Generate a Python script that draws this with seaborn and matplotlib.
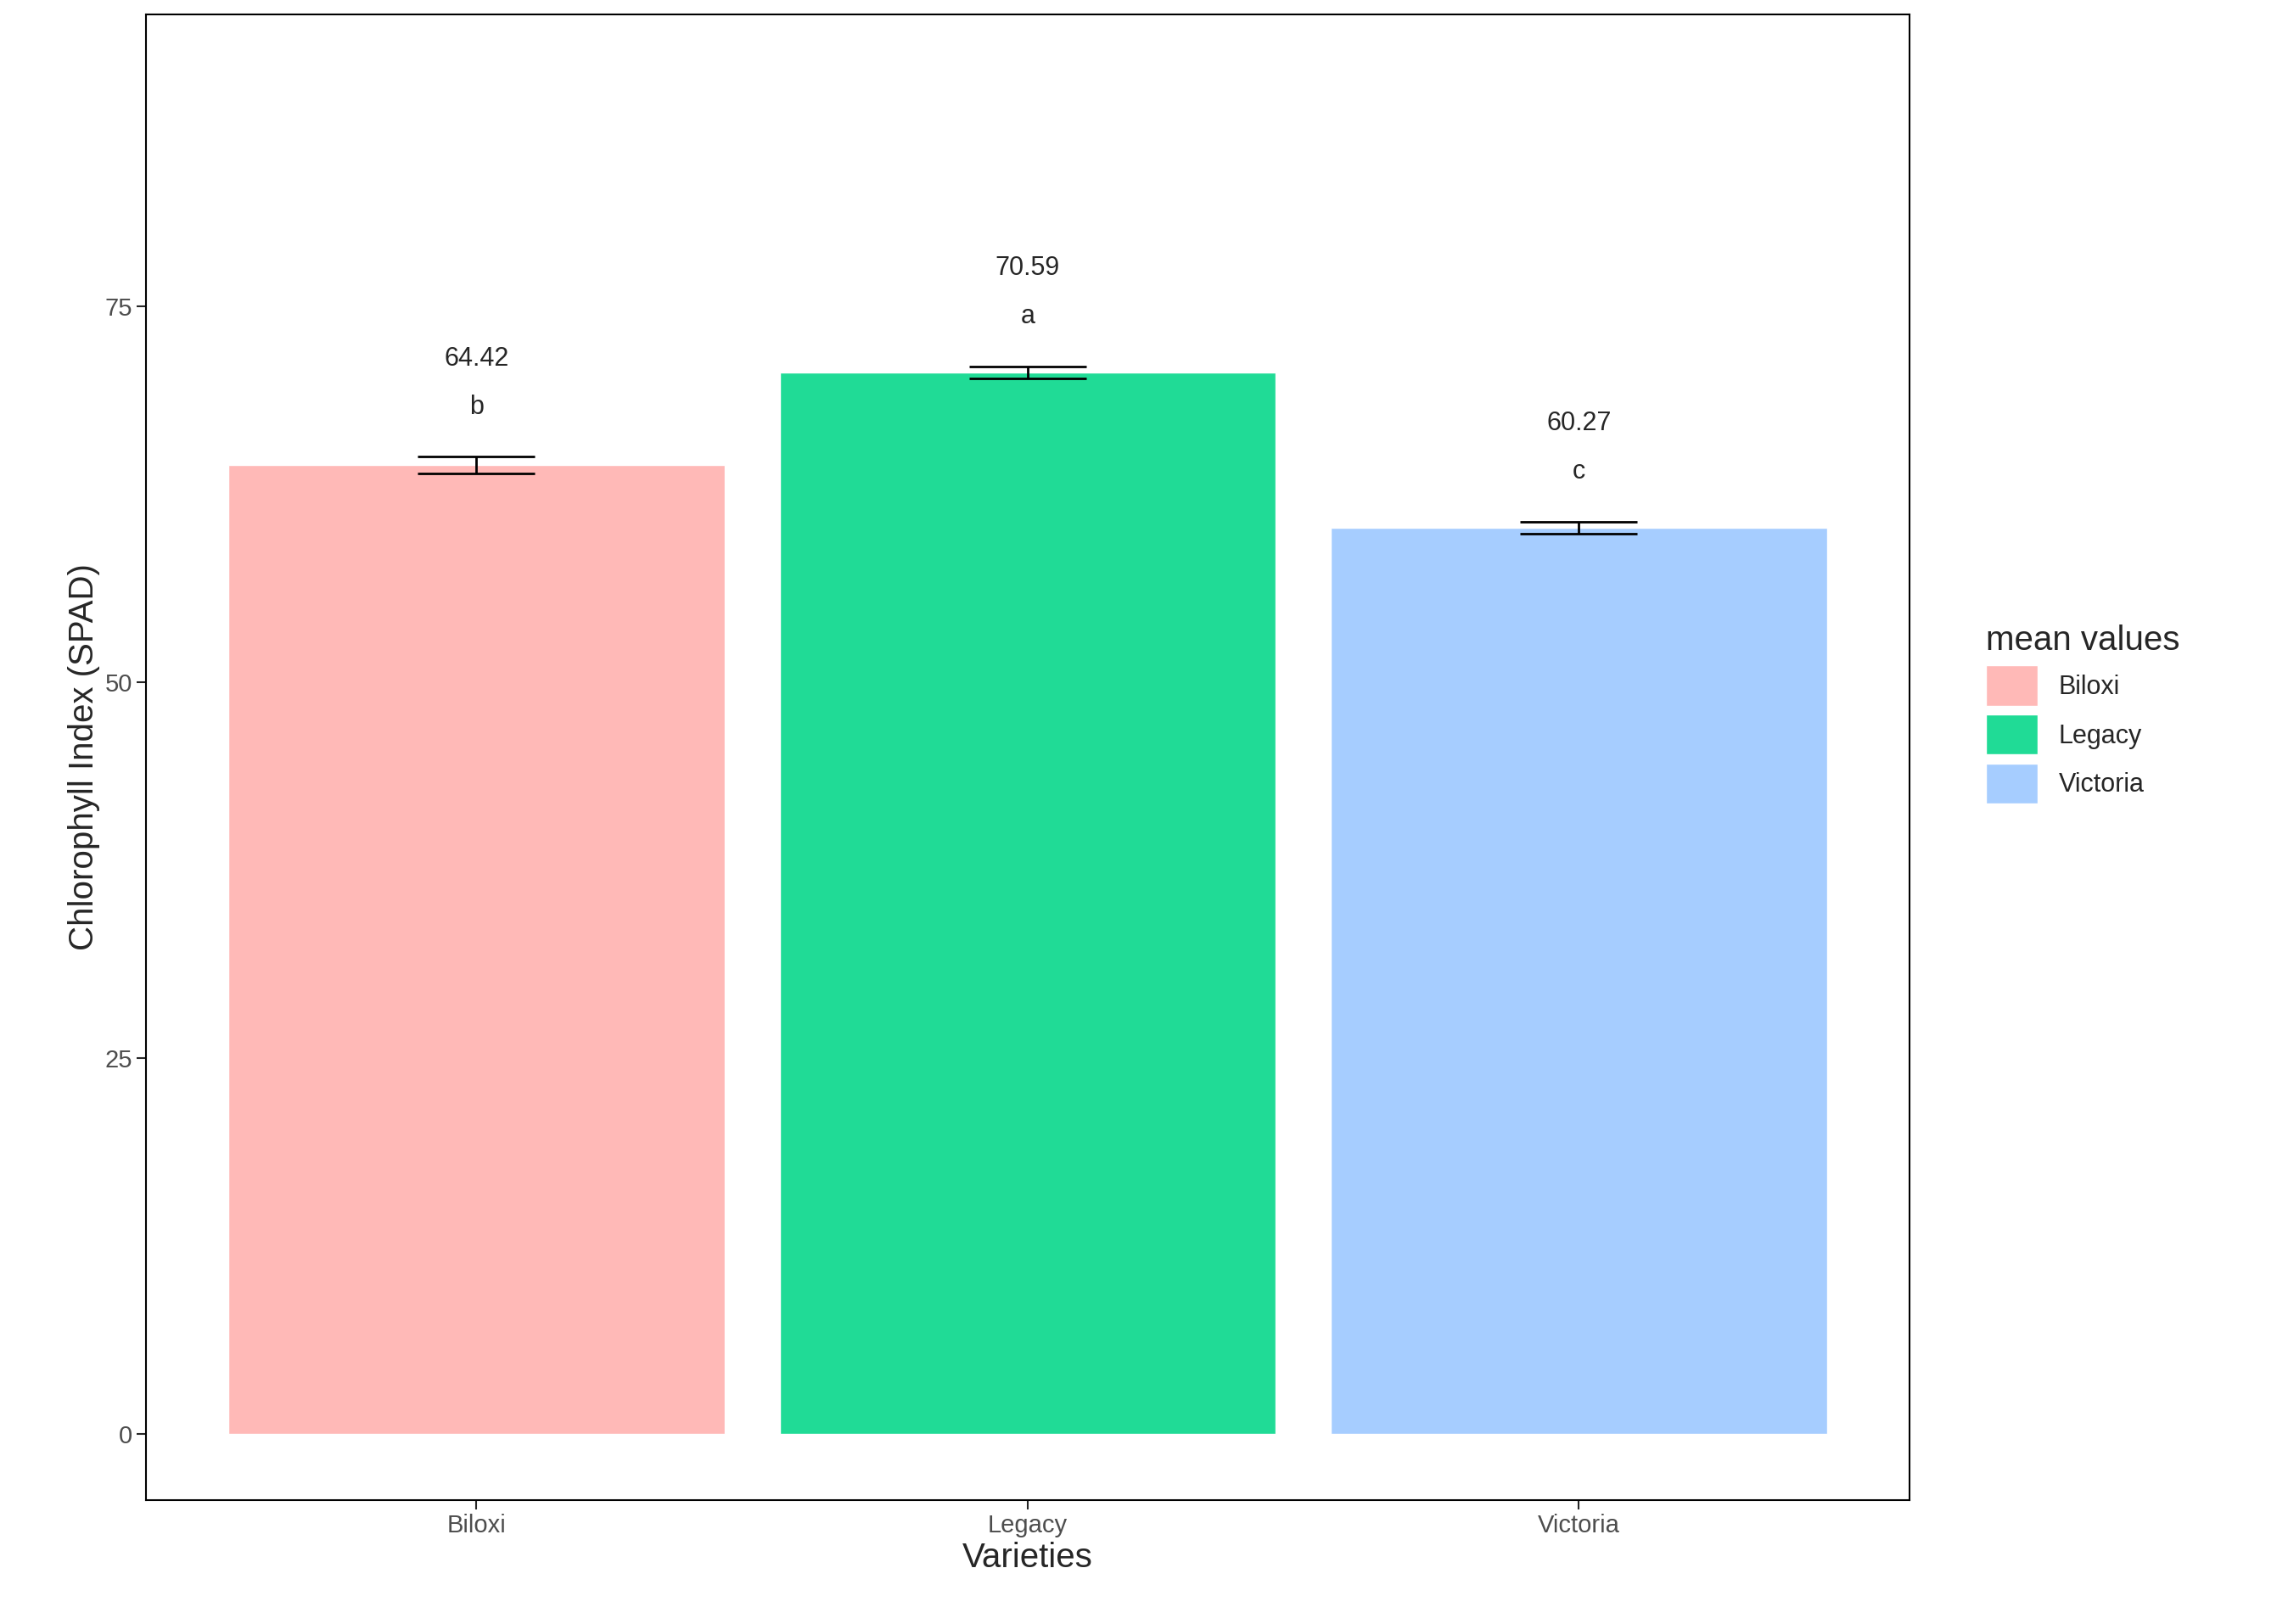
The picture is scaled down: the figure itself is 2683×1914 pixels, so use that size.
import pandas as pd
import matplotlib.pyplot as plt
import matplotlib.patches as mpatches
import seaborn as sns

varieties = ['Biloxi', 'Legacy', 'Victoria']
means = [64.42, 70.59, 60.27]
se = [0.55, 0.4, 0.4]
letters = ['b', 'a', 'c']
colors = ['#FFB9B7', '#20DB96', '#A6CDFF']

df = pd.DataFrame({'variety': varieties, 'mean': means})

sns.set_style('white')
plt.rcParams['font.family'] = ['Liberation Sans', 'DejaVu Sans']

fig = plt.figure(figsize=(26.83, 19.14), dpi=100)
ax = fig.add_axes([0.064, 0.0763, 0.7746, 0.915])

sns.barplot(data=df, x='variety', y='mean', hue='variety', palette=colors,
            width=0.9, errorbar=None, legend=False, ax=ax, saturation=1)
ax.errorbar(range(3), means, yerr=se, fmt='none', ecolor='black',
            elinewidth=2, capsize=50, capthick=2)

for i, (m, s, l) in enumerate(zip(means, se, letters)):
    ax.text(i, m + s + 6.5, f'{m:.2f}', ha='center', va='center', fontsize=22)
    ax.text(i, m + s + 3.3, l, ha='center', va='center', fontsize=22)

ax.set_xlim(-0.6, 2.6)
ax.set_ylim(-4.4, 94.4)
ax.set_yticks([0, 25, 50, 75])
ax.set_xlabel('Varieties', fontsize=29)
ax.set_ylabel('Chlorophyll Index (SPAD)', fontsize=29)
ax.tick_params(axis='both', labelsize=21, labelcolor='#4d4d4d', length=8,
               width=1.5, direction='out', bottom=True, left=True)
for sp in ax.spines.values():
    sp.set_visible(True)
    sp.set_color('black')
    sp.set_linewidth(1.5)

handles = [mpatches.Patch(facecolor=c, label=v) for v, c in zip(varieties, colors)]
leg = fig.legend(handles=handles, title='mean values', loc='upper left',
                 bbox_to_anchor=(0.862, 0.63), frameon=False, fontsize=22,
                 title_fontsize=29, handlelength=2.0, handleheight=2.0,
                 labelspacing=0.35, handletextpad=0.8)
leg._legend_box.align = 'left'

fig.savefig('out.png', dpi=100)
